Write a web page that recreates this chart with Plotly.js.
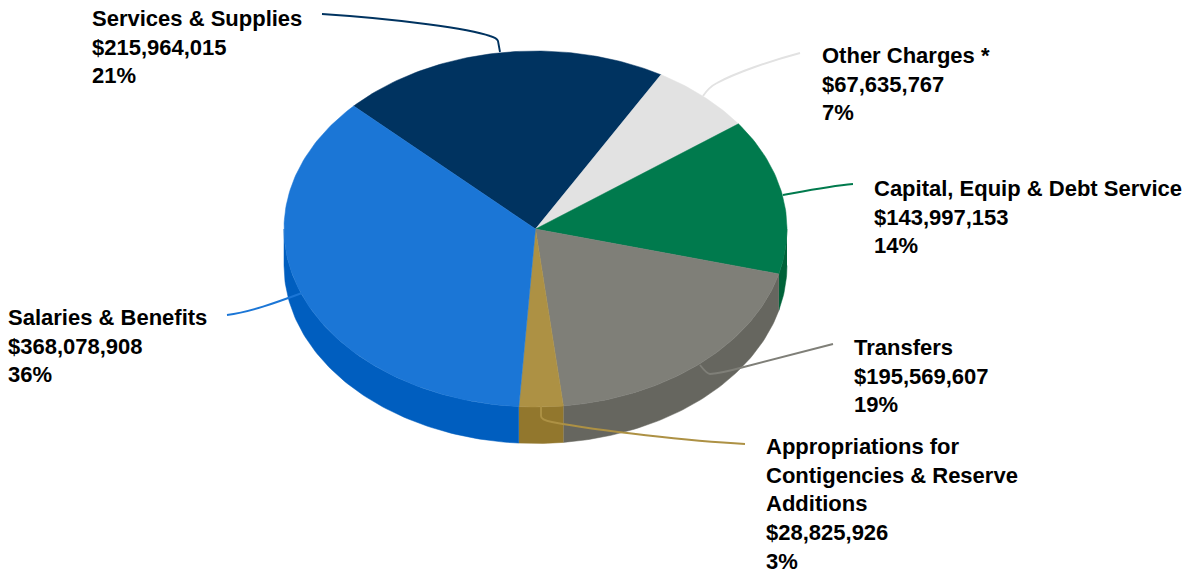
<!DOCTYPE html>
<html>
<head>
<meta charset="utf-8">
<script src="https://cdn.plot.ly/plotly-3.0.1.min.js"></script>
<style>html,body{margin:0;padding:0;background:#fff}#chart{width:1191px;height:573px}</style>
</head>
<body>
<div id="chart"></div>
<script>
// Budget breakdown, clockwise from the top-left slice boundary
var categories = [
  ["Services & Supplies"],
  ["Other Charges *"],
  ["Capital, Equip & Debt Service"],
  ["Transfers"],
  ["Appropriations for", "Contigencies & Reserve", "Additions"],
  ["Salaries & Benefits"]
];
var amounts = [215964015, 67635767, 143997153, 195569607, 28825926, 368078908];
var topColors = ["#003360", "#E2E2E2", "#007A4D", "#7F7F78", "#AD9144", "#1B76D6"];
var wallColors = ["#002A50", "#BEBEBE", "#006239", "#66665F", "#92772D", "#005EBF"];
var lineColors = ["#003360", "#E2E2E2", "#007A4D", "#7F7F78", "#AD9144", "#1B76D6"];

// Text block anchors: left edge and centre of the first line
var labelX = [91, 820.5, 872.5, 852.5, 764.5, 7];
var labelY = [18.3, 55.3, 188.3, 347.3, 446.3, 317.3];
var lineStep = 28.7;

// Leader lines from each label to its slice
var leaders = [
  "M322,14 C400,19 470,29 490,36 Q497,38 498,41 L500,52",
  "M800,53 C770,61 735,73 717,83 Q709,87 703,96",
  "M853,184 C830,186 805,191 783,195",
  "M833,344 L740,368 Q722,373 710,374 Q707,374 700,365",
  "M745,444 C690,441 600,431 552,422 Q541,420 541,416 L541,406",
  "M227,315 C250,312 275,303 302,293"
];

// Tilted disc geometry, in axis units
var cx = 535.5, cy = 229, rx = 251.5, ry = 178, depth = 36.5;
var startAngle = 313.7;

function rimPoint(deg, drop) {
  var a = deg * Math.PI / 180;
  return [cx + rx * Math.sin(a), cy - ry * Math.cos(a) + drop];
}
function arc(from, to, drop) {
  var pts = [], n = Math.max(2, Math.ceil(Math.abs(to - from)));
  for (var i = 0; i <= n; i++) pts.push(rimPoint(from + (to - from) * i / n, drop));
  return pts;
}
function polygonTrace(pts, color, hover) {
  return {
    type: "scatter", mode: "lines", fill: "toself", fillcolor: color,
    x: pts.map(function (p) { return p[0]; }),
    y: pts.map(function (p) { return p[1]; }),
    line: { color: color, width: 0.5 },
    hoverinfo: hover ? "text" : "skip", text: hover || "", hoveron: "fills",
    showlegend: false
  };
}

var total = amounts.reduce(function (s, v) { return s + v; }, 0);
var walls = [], faces = [], annotations = [], cursor = startAngle;

amounts.forEach(function (value, i) {
  var sweep = value / total * 360, from = cursor, to = cursor + sweep;
  cursor = to;
  var amountText = "$" + value.toLocaleString("en-US");
  var pctText = Math.round(value / total * 100) + "%";

  // Side wall: only the front half of the rim (90 to 270 degrees) is visible
  [0, 360].forEach(function (turn) {
    var a = Math.max(from - turn, 90), b = Math.min(to - turn, 270);
    if (b > a) {
      walls.push(polygonTrace(arc(a, b, 0).concat(arc(b, a, depth)), wallColors[i]));
    }
  });

  faces.push(polygonTrace([[cx, cy]].concat(arc(from, to, 0)).concat([[cx, cy]]), topColors[i],
    categories[i].join(" ") + "<br>" + amountText + "<br>" + pctText));

  categories[i].concat([amountText, pctText]).forEach(function (text, k) {
    annotations.push({
      xref: "x", yref: "y", x: labelX[i], y: labelY[i] + k * lineStep,
      text: text, showarrow: false, xanchor: "left", yanchor: "middle", borderpad: 0,
      font: { family: "Liberation Sans, Arial, sans-serif", size: 22, color: "#000000", weight: 700 }
    });
  });
});

var shapes = leaders.map(function (path, i) {
  return { type: "path", xref: "x", yref: "y", path: path, layer: "above",
           line: { color: lineColors[i], width: 1.9 } };
});

Plotly.newPlot("chart", walls.concat(faces), {
  width: 1191, height: 573,
  margin: { l: 0, r: 0, t: 0, b: 0 },
  paper_bgcolor: "#ffffff", plot_bgcolor: "#ffffff",
  xaxis: { range: [0, 1191], visible: false, fixedrange: true },
  yaxis: { range: [573, 0], visible: false, fixedrange: true },
  hovermode: "closest",
  shapes: shapes,
  annotations: annotations
}, { displayModeBar: false, responsive: false });
</script>
</body>
</html>
